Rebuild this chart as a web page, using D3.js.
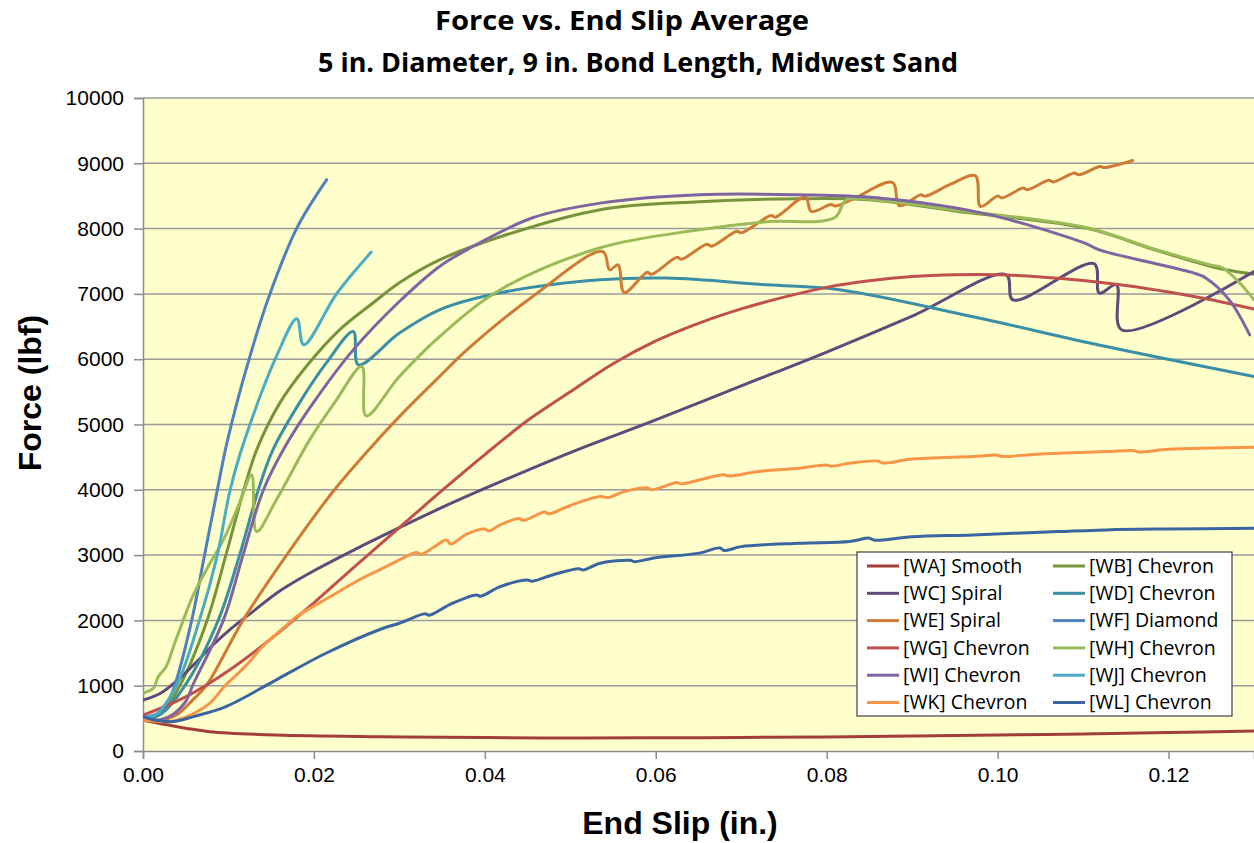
<!DOCTYPE html>
<html>
<head>
<meta charset="utf-8">
<script src="https://cdn.jsdelivr.net/npm/d3@7/dist/d3.min.js"></script>
<style>
  body { margin: 0; background: #fff; }
</style>
</head>
<body>
<div id="chart"></div>
<script>
// readings: [end slip (in.), force (lbf)]
const wa = [[0,470],[0.002,420],[0.005,350],[0.0078,296],[0.0156,245],[0.0281,219],[0.04,205],[0.05,200],[0.06,202],[0.07,207],[0.08,216],[0.09,230],[0.10,245],[0.11,262],[0.12,282],[0.13,305]];
const wb = [[0,500],[0.002,560],[0.0043,1000],[0.0075,2000],[0.0097,3000],[0.0118,4000],[0.0133,4611],[0.016,5327],[0.0191,5888],[0.023,6450],[0.0269,6860],[0.030,7170],[0.0347,7520],[0.0418,7875],[0.0535,8290],[0.0651,8410],[0.0768,8457],[0.085,8440],[0.095,8270],[0.1106,8000],[0.118,7690],[0.125,7420],[0.1267,7370],[0.13,7300]];
const wc = [[0,780],[0.002,880],[0.004,1080],[0.006,1330],[0.008,1600],[0.010,1840],[0.013,2150],[0.016,2450],[0.02,2760],[0.025,3100],[0.03,3420],[0.035,3730],[0.04,4020],[0.05,4570],[0.06,5070],[0.07,5590],[0.08,6110],[0.09,6660],[0.101,7292],[0.1018,6909],[0.1113,7461],[0.1119,7012],[0.1139,7139],[0.1145,6450],[0.13,7343]];
const wd = [[0,520],[0.002,560],[0.0049,1000],[0.0088,2000],[0.0113,3000],[0.0135,4000],[0.0152,4611],[0.0184,5350],[0.0215,5950],[0.0246,6424],[0.0252,5914],[0.030,6400],[0.0347,6756],[0.0418,7017],[0.0535,7216],[0.0613,7242],[0.073,7139],[0.0815,7063],[0.097,6653],[0.1127,6194],[0.13,5735]];
const we = [[0,480],[0.002,470],[0.004,560],[0.0058,780],[0.0074,1000],[0.0117,2000],[0.0168,3000],[0.0224,4000],[0.0275,4770],[0.030,5121],[0.0347,5735],[0.0379,6143],[0.0456,6960],[0.0538,7650],[0.0546,7369],[0.0556,7446],[0.0563,7021],[0.059,7330],[0.0595,7300],[0.0625,7560],[0.063,7530],[0.066,7760],[0.0665,7730],[0.0695,7960],[0.070,7935],[0.0735,8200],[0.074,8175],[0.0775,8482],[0.0782,8262],[0.0805,8370],[0.081,8345],[0.0833,8467],[0.0877,8706],[0.0885,8350],[0.091,8520],[0.0915,8495],[0.0945,8680],[0.0974,8809],[0.098,8339],[0.100,8500],[0.1005,8470],[0.103,8620],[0.1035,8595],[0.106,8740],[0.1065,8715],[0.109,8850],[0.1095,8825],[0.112,8950],[0.1125,8935],[0.1158,9043]];
const wf = [[0,520],[0.0015,560],[0.0027,700],[0.0037,1000],[0.0057,2000],[0.0072,3000],[0.0087,4000],[0.0099,4765],[0.0125,6040],[0.0149,7017],[0.018,8008],[0.0215,8750]];
const wg = [[0,550],[0.005,830],[0.01,1230],[0.015,1720],[0.02,2270],[0.025,2850],[0.03,3420],[0.035,3990],[0.04,4540],[0.045,5060],[0.05,5500],[0.055,5930],[0.06,6280],[0.065,6550],[0.07,6770],[0.075,6950],[0.08,7100],[0.085,7200],[0.09,7265],[0.095,7292],[0.10,7292],[0.105,7260],[0.11,7205],[0.115,7130],[0.12,7030],[0.125,6910],[0.13,6767]];
const wh = [[0,884],[0.0012,960],[0.0018,1140],[0.0027,1290],[0.0037,1650],[0.0047,2000],[0.0058,2364],[0.0074,2773],[0.0094,3233],[0.0113,3795],[0.0127,4228],[0.0133,3360],[0.0156,3845],[0.0195,4765],[0.0225,5350],[0.0256,5888],[0.0261,5132],[0.030,5735],[0.0347,6347],[0.0418,7063],[0.0535,7706],[0.0651,7982],[0.073,8104],[0.0809,8166],[0.0823,8441],[0.085,8450],[0.095,8285],[0.1106,8010],[0.118,7700],[0.125,7440],[0.1263,7400],[0.1283,7170],[0.13,6909]];
const wi = [[0,500],[0.002,480],[0.0035,560],[0.0051,780],[0.0058,1000],[0.0094,2000],[0.0117,3000],[0.0141,4000],[0.0168,4700],[0.0199,5327],[0.0246,6143],[0.030,6883],[0.0347,7420],[0.0379,7675],[0.0456,8166],[0.0535,8390],[0.0651,8518],[0.0768,8518],[0.0858,8472],[0.0982,8237],[0.1102,7778],[0.1119,7675],[0.123,7318],[0.1244,7241],[0.1271,6909],[0.1295,6373]];
const wj = [[0,520],[0.0015,560],[0.0039,1000],[0.0066,2000],[0.0087,3000],[0.0102,4000],[0.0119,4765],[0.0156,6040],[0.018,6620],[0.0188,6220],[0.0227,7010],[0.0267,7640]];
const wk = [[0,475],[0.0015,455],[0.003,450],[0.005,520],[0.0078,730],[0.0096,1000],[0.012,1300],[0.014,1600],[0.0164,1880],[0.018,2060],[0.02,2220],[0.0226,2416],[0.025,2600],[0.0281,2800],[0.030,2926],[0.032,3040],[0.0325,3010],[0.034,3120],[0.0355,3230],[0.036,3170],[0.038,3330],[0.040,3400],[0.0405,3370],[0.0418,3462],[0.044,3560],[0.0445,3530],[0.047,3660],[0.0475,3630],[0.050,3760],[0.0535,3896],[0.0545,3880],[0.056,3960],[0.059,4030],[0.0595,4000],[0.0625,4110],[0.063,4090],[0.0651,4151],[0.068,4230],[0.0685,4210],[0.072,4280],[0.0768,4331],[0.080,4380],[0.0805,4360],[0.0827,4407],[0.086,4440],[0.0865,4410],[0.09,4470],[0.0971,4509],[0.100,4530],[0.1005,4510],[0.105,4550],[0.1127,4585],[0.116,4600],[0.1165,4580],[0.12,4620],[0.13,4652]];
const wl = [[0,525],[0.0015,470],[0.0035,450],[0.006,530],[0.0097,680],[0.0156,1090],[0.0214,1497],[0.0281,1880],[0.030,1957],[0.033,2100],[0.0335,2080],[0.036,2250],[0.039,2390],[0.0395,2370],[0.0418,2517],[0.045,2620],[0.0455,2600],[0.048,2700],[0.051,2790],[0.0515,2770],[0.0535,2875],[0.057,2920],[0.0575,2900],[0.06,2960],[0.0651,3030],[0.0675,3110],[0.068,3070],[0.07,3130],[0.0768,3181],[0.0827,3207],[0.085,3260],[0.0855,3230],[0.09,3280],[0.0971,3309],[0.105,3350],[0.1127,3386],[0.12,3400],[0.13,3411]];

const seriesNames = ["[WA] Smooth", "[WB] Chevron", "[WC] Spiral", "[WD] Chevron", "[WE] Spiral", "[WF] Diamond",
                     "[WG] Chevron", "[WH] Chevron", "[WI] Chevron", "[WJ] Chevron", "[WK] Chevron", "[WL] Chevron"];
const seriesData = [wa, wb, wc, wd, we, wf, wg, wh, wi, wj, wk, wl];
const seriesColors = ["#A33D3B", "#77933C", "#604A7B", "#3A8FA6", "#CF7A35", "#4F81BD",
                      "#C0504D", "#9BBB59", "#8064A2", "#4BACC6", "#F79646", "#3A65A0"];

const xTicks = [0, 0.02, 0.04, 0.06, 0.08, 0.10, 0.12];
const yTicks = [0, 1000, 2000, 3000, 4000, 5000, 6000, 7000, 8000, 9000, 10000];

const width = 1254, height = 843;
const margin = {top: 98, right: 0, bottom: 92, left: 143};

const svg = d3.select("#chart").append("svg")
  .attr("width", width)
  .attr("height", height)
  .style("font-family", "'Liberation Sans', Arial, sans-serif");

const x = d3.scaleLinear([0, 0.13], [margin.left, width - margin.right]);
const y = d3.scaleLinear([0, 10000], [height - margin.bottom, margin.top]);

svg.append("rect")
  .attr("x", x(0)).attr("y", y(10000))
  .attr("width", x(0.13) - x(0)).attr("height", y(0) - y(10000))
  .attr("fill", "#FFFFCC");

// grid
svg.append("g")
  .selectAll("line")
  .data(yTicks.filter(d => d > 0))
  .join("line")
  .attr("x1", x(0)).attr("x2", x(0.13))
  .attr("y1", d => y(d)).attr("y2", d => y(d))
  .attr("stroke", "#9A9A9A").attr("stroke-width", 1.5);

// axes
const yAxis = svg.append("g")
  .attr("transform", `translate(${x(0)},0)`)
  .call(d3.axisLeft(y).tickValues(yTicks).tickFormat(d3.format("d")).tickSize(9).tickPadding(10));
const xAxis = svg.append("g")
  .attr("transform", `translate(0,${y(0)})`)
  .call(d3.axisBottom(x).tickValues(xTicks).tickFormat(d3.format(".2f")).tickSize(8).tickPadding(8));

[yAxis, xAxis].forEach(g => {
  g.select(".domain").attr("stroke", "#8C8C8C").attr("stroke-width", 1.5);
  g.selectAll(".tick line").attr("stroke", "#8C8C8C").attr("stroke-width", 1.5);
  g.selectAll(".tick text")
    .attr("fill", "#000")
    .style("font-size", "21px")
    .style("font-family", "'Liberation Sans', Arial, sans-serif");
});

// lines
svg.append("clipPath").attr("id", "plot-clip")
  .append("rect")
  .attr("x", x(0)).attr("y", y(10000) - 2)
  .attr("width", x(0.13) - x(0)).attr("height", y(0) - y(10000) + 2);

const line = d3.line()
  .x(d => x(d[0]))
  .y(d => y(d[1]))
  .curve(d3.curveCatmullRom.alpha(0.5));

svg.append("g")
  .attr("clip-path", "url(#plot-clip)")
  .selectAll("path")
  .data(seriesData)
  .join("path")
  .attr("fill", "none")
  .attr("stroke", (d, i) => seriesColors[i])
  .attr("stroke-width", 3)
  .attr("stroke-linejoin", "round")
  .attr("stroke-linecap", "round")
  .attr("d", line);

// titles
svg.append("text")
  .attr("x", 622).attr("y", 30)
  .attr("text-anchor", "middle")
  .attr("textLength", 374).attr("lengthAdjust", "spacingAndGlyphs")
  .style("font-family", "'Open Sans', sans-serif")
  .style("font-weight", "bold").style("font-size", "27px")
  .text("Force vs. End Slip Average");
svg.append("text")
  .attr("x", 638).attr("y", 72)
  .attr("text-anchor", "middle")
  .attr("textLength", 640).attr("lengthAdjust", "spacingAndGlyphs")
  .style("font-family", "'Open Sans', sans-serif")
  .style("font-weight", "bold").style("font-size", "27px")
  .text("5 in. Diameter, 9 in. Bond Length, Midwest Sand");

svg.append("text")
  .attr("transform", "translate(41,393) rotate(-90)")
  .attr("text-anchor", "middle")
  .style("font-weight", "bold").style("font-size", "32px")
  .text("Force (lbf)");
svg.append("text")
  .attr("x", 680).attr("y", 834)
  .attr("text-anchor", "middle")
  .style("font-weight", "bold").style("font-size", "32px")
  .text("End Slip (in.)");

// legend
const legend = svg.append("g").attr("transform", "translate(857,552)");
legend.append("rect")
  .attr("width", 375).attr("height", 164)
  .attr("fill", "#fff").attr("stroke", "#404040").attr("stroke-width", 1.2);

const item = legend.selectAll("g.item")
  .data(seriesNames)
  .join("g")
  .attr("class", "item")
  .attr("transform", (d, i) => `translate(${i % 2 ? 196 : 10},${14 + Math.floor(i / 2) * 27.3})`);
item.append("line")
  .attr("x1", 0).attr("x2", 32)
  .attr("stroke", (d, i) => seriesColors[i])
  .attr("stroke-width", 3);
item.append("text")
  .attr("x", 36).attr("dy", "0.35em")
  .style("font-family", "'Open Sans', sans-serif")
  .style("font-size", "19.5px")
  .text(d => d);
</script>
</body>
</html>
